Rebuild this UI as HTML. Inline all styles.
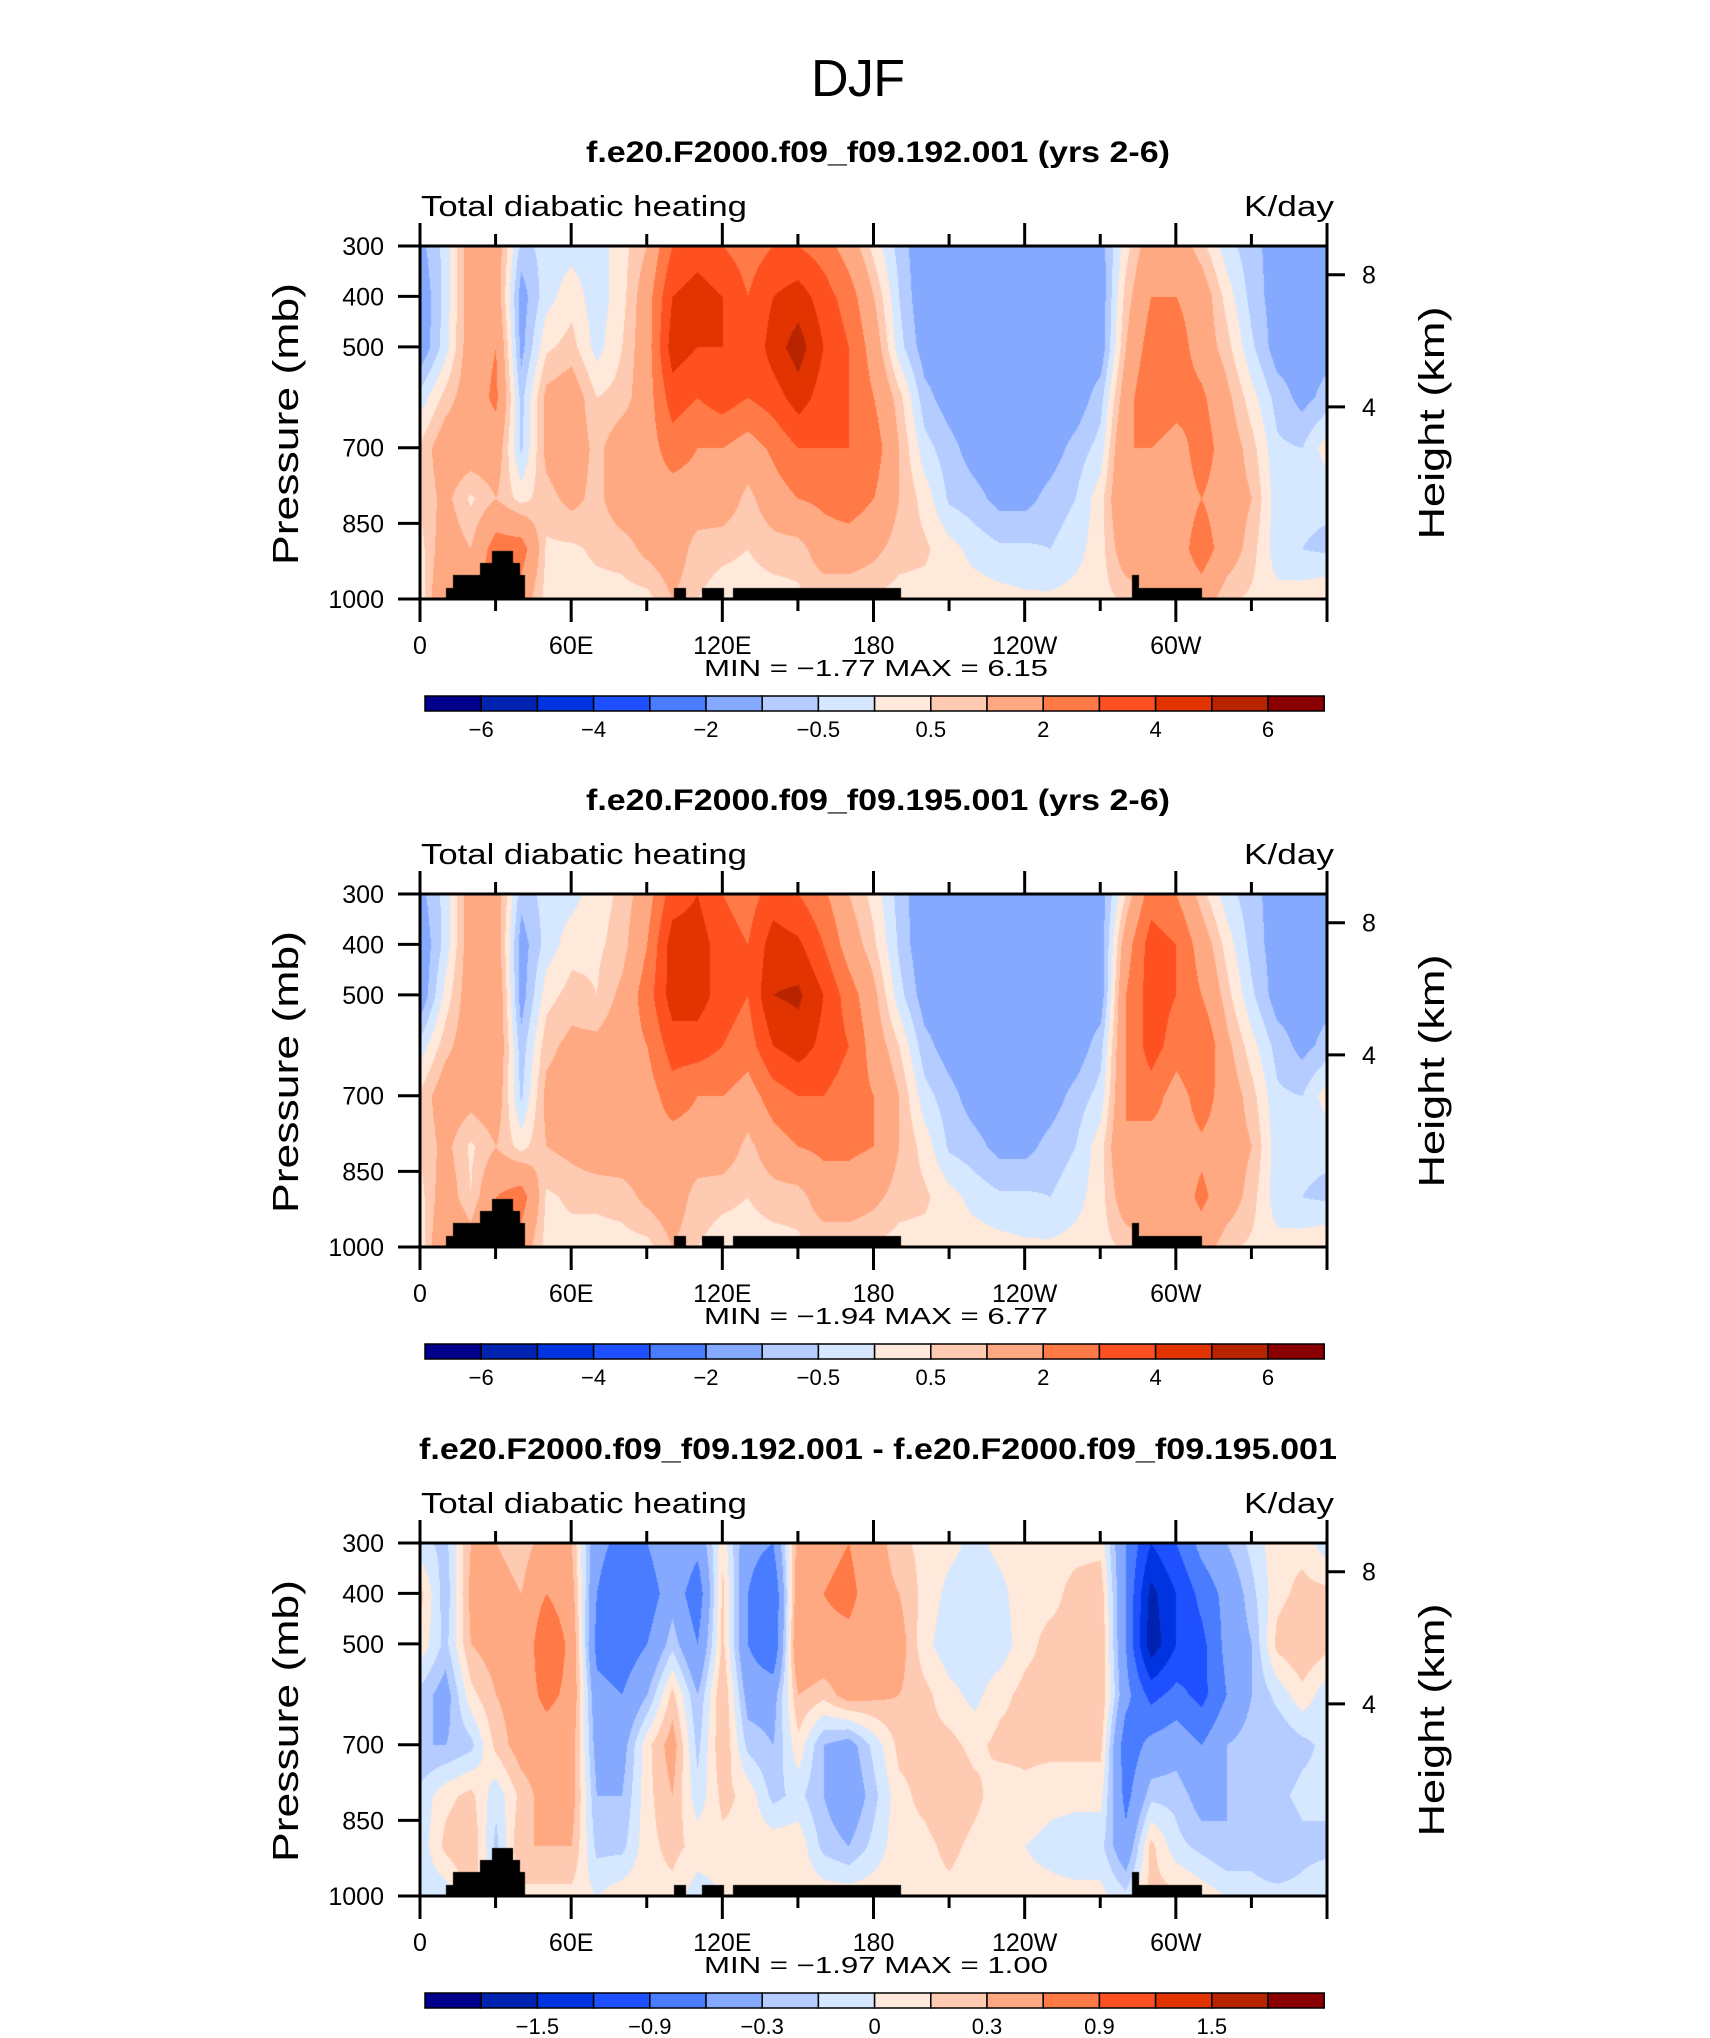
<!DOCTYPE html>
<html><head><meta charset="utf-8"><title>DJF Total diabatic heating</title>
<style>
html,body{margin:0;padding:0;background:#fff;}
#wrap{position:relative;width:1710px;height:2038px;overflow:hidden;background:#fff;}
canvas{position:absolute;}
svg{position:absolute;left:0;top:0;}
text{font-family:"Liberation Sans",sans-serif;fill:#000;}
</style></head>
<body>
<div id="wrap">
<canvas id="c0" width="907" height="353" style="left:420px;top:246px"></canvas>
<canvas id="c1" width="907" height="353" style="left:420px;top:894px"></canvas>
<canvas id="c2" width="907" height="353" style="left:420px;top:1543px"></canvas>
<svg id="svg" width="1710" height="2038">
<text x="858" y="96" font-size="52" text-anchor="middle" textLength="94">DJF</text>
</svg>
</div>
<script>
const lonNodes = [0,10,20,30,40,50,60,70,80,90,100,110,120,130,140,150,160,170,180,190,200,210,220,230,240,250,260,270,280,290,300,310,320,330,340,350,360];
const presNodes = [300,400,500,600,700,800,900,1000];
const levelsMain = [-6,-5,-4,-3,-2,-1,-0.5,0,0.5,1,2,3,4,5,6];
const levelsDiff = [-1.8,-1.5,-1.2,-0.9,-0.6,-0.3,-0.15,0,0.15,0.3,0.6,0.9,1.2,1.5,1.8];
const labelsMain = ["-6","-4","-2","-0.5","0.5","2","4","6"];
const labelsDiff = ["-1.5","-0.9","-0.3","0","0.3","0.9","1.5"];
const colors = ["#00008c","#0022b0","#0034e0","#1f50ff","#4a7cff","#84a9ff","#b4ccff","#d6e8ff","#ffe9da","#ffcab2","#ffa982","#ff7a47","#ff5020","#e23400","#b82400","#8a0000"];
const xTickLons = [0,60,120,180,240,300];
const xTickLabels = ["0","60E","120E","180","120W","60W"];
const yTickPres = [300,400,500,700,850,1000];
const heightTickPres = [357,619];
const heightTickLabels = ["8","4"];
const topoStart = [10.3,12.8,23.8,28.4,36.6,39.6,100.7,111.7,124.2,282.3,285.1];
const topoEnd =   [12.8,23.8,28.4,36.6,39.6,41.3,105.4,120.3,190.9,285.1,310];
const topoTop =   [978,952,927,903,927,952,977,977,977,952,977];

const field192 = [
[-1.2,-1.5,-1.5,-0.3,0.6,0.6,0.3,0.2],
[-0.3,-0.3,-0.2,0.7,1.5,1.2,1.5,2],
[1.5,1.5,1.5,1.5,1.5,0.4,1,1.5],
[1.5,1.5,2,2.2,1.5,1,2.5,3],
[-0.7,-1.3,-1.2,-0.7,-0.6,0.3,2.5,1.5],
[-0.3,-0.2,0.4,1.2,1.2,0.8,0.4,0.3],
[-0.2,0.3,0.7,1.5,1.5,1.2,0.4,0.3],
[-0.3,-0.3,-0.2,0.5,0.8,0.8,0.6,0.3],
[0.3,0.3,0.5,0.7,1.5,1.5,0.7,0.3],
[1,1.5,1.5,1.5,1.5,1.5,1.2,0.3],
[3,4,4.5,3.5,2.5,1.5,1.5,1],
[3.5,4.5,4,3,2,1.5,0.7,0.5],
[3,4,4,3.5,2,1.5,0.6,0.3],
[2.5,3,3,3,1.5,0.8,0.5,0.3],
[3,4,4.5,3.5,2.2,1.5,0.7,0.3],
[3,4.5,5.5,4.5,3,2,0.7,0.4],
[2.5,3.5,4,3.5,3,2.2,1.5,0.5],
[1.5,2.5,3,3,3,2.5,1.5,0.5],
[0.3,1,1.5,2,2.5,2,1.2,0.4],
[-0.7,-0.5,-0.3,0.7,1,1,0.7,0.3],
[-1.5,-1.5,-1.3,-0.8,-0.3,0.3,0.6,0.3],
[-1.5,-1.5,-1.5,-1.3,-0.8,-0.6,0.2,0.3],
[-1.5,-1.5,-1.5,-1.5,-1.3,-0.8,-0.2,0.3],
[-1.5,-1.5,-1.5,-1.5,-1.5,-1.2,-0.4,0.2],
[-1.5,-1.5,-1.5,-1.5,-1.5,-1.2,-0.4,0.1],
[-1.5,-1.5,-1.5,-1.5,-1.3,-0.8,-0.5,0.1],
[-1.5,-1.5,-1.5,-1.4,-0.8,-0.5,-0.2,0.2],
[-1.3,-1.4,-1.4,-0.7,-0.3,0.3,0.3,0.3],
[0.3,0.7,1,1.5,2,2,1.5,0.6],
[1.5,2,2.5,3,2,1.5,1.5,1],
[1.5,2,2.5,2.5,1.5,1.5,1.5,1.2],
[0.7,1.5,1.5,2.2,2.5,2,2.5,1.5],
[-0.3,0.3,0.7,1.2,1.5,1.5,1.5,0.6],
[-0.8,-0.7,-0.4,0.2,0.7,1,0.7,0.4],
[-1.3,-1.3,-1.3,-0.7,-0.4,-0.3,-0.3,0.2],
[-1.3,-1.3,-1.3,-1.2,-0.5,-0.4,-0.5,0.3],
[-1.3,-1.3,-1.2,-0.8,0.3,-0.4,-0.6,0.5]
];
const field195 = [
[-1.2,-1.5,-1.5,-0.3,0.6,0.6,0.3,0.2],
[-0.3,-0.3,0.2,0.8,1.5,1.2,1.5,2],
[1.5,1.5,1.5,1.5,1.3,0.4,0.5,1.5],
[1.5,1.5,1.8,1.8,1.5,1,2,3],
[-0.8,-1.3,-1.3,-0.8,-0.6,0.3,2.5,1.5],
[-0.3,-0.3,0.3,0.8,1.2,1.0,0.4,0.3],
[-0.2,0.3,0.7,1.2,1.5,1.2,0.6,0.3],
[0.3,0.4,0.5,1.2,1.5,1.5,0.6,0.3],
[0.6,0.7,1.2,1.5,1.5,1.5,0.7,0.3],
[1.5,2,2.5,2,1.5,1.5,1.2,0.3],
[3.5,4.5,4.5,3.5,2.5,1.5,1.5,1],
[4,4.5,4.5,3.5,2,1.5,0.7,0.5],
[3,3.5,3.5,3,2,1.5,0.6,0.3],
[2.5,3,3,2.5,1.5,0.8,0.5,0.3],
[3.5,4.5,5,4,2.5,1.5,0.7,0.3],
[3,4.2,5.2,4.5,3,2,0.7,0.4],
[2.2,3,4,3.7,3,2.2,1.5,0.5],
[1,1.5,2.5,3,2.5,2.2,1.5,0.5],
[0.3,0.6,1.2,1.5,2,2,1.2,0.4],
[-0.7,-0.6,-0.3,0.5,1,1,0.7,0.3],
[-1.5,-1.5,-1.3,-0.8,-0.3,0.3,0.6,0.3],
[-1.5,-1.5,-1.5,-1.3,-0.8,-0.6,0.2,0.3],
[-1.5,-1.5,-1.5,-1.5,-1.3,-0.8,-0.2,0.3],
[-1.5,-1.5,-1.5,-1.5,-1.5,-1.2,-0.4,0.2],
[-1.5,-1.5,-1.5,-1.5,-1.5,-1.2,-0.4,0.1],
[-1.5,-1.5,-1.5,-1.5,-1.3,-0.8,-0.5,0.1],
[-1.5,-1.5,-1.5,-1.4,-0.8,-0.5,-0.2,0.2],
[-1.3,-1.4,-1.4,-0.7,-0.3,0.3,0.3,0.3],
[0.5,1.5,2,2,2,2,1.5,0.6],
[2.5,3.5,3.5,3.5,2.5,1.5,1.5,1],
[2,3,3,2.5,1.5,1.5,1.5,1.2],
[0.7,1.5,2,3,2.5,1.8,2.2,1.5],
[-0.3,0.3,0.7,1.2,1.5,1.5,1.5,0.6],
[-0.8,-0.7,-0.4,0.2,0.7,1,0.7,0.4],
[-1.3,-1.3,-1.3,-0.7,-0.4,-0.3,-0.3,0.2],
[-1.3,-1.3,-1.3,-1.2,-0.5,-0.4,-0.5,0.3],
[-1.3,-1.3,-1.2,-0.8,0.3,-0.4,-0.6,0.5]
];
const fieldDiff = [
[-0.1,0.2,0.1,-0.2,-0.3,-0.1,-0.1,-0.1],
[-0.2,-0.25,-0.2,-0.4,-0.3,0.1,0.2,-0.1],
[0.3,0.35,0.3,0.1,-0.2,0.2,0.3,0.2],
[0.3,0.4,0.4,0.3,0.2,-0.1,-0.2,0],
[0.2,0.3,0.3,0.4,0.4,0.2,0.3,0.1],
[0.4,0.6,0.9,0.7,0.4,0.4,0.3,0.1],
[0.3,0.4,0.5,0.5,0.4,0.4,0.3,0.1],
[-0.5,-0.6,-0.7,-0.5,-0.4,-0.3,-0.2,0],
[-0.7,-0.9,-0.8,-0.6,-0.4,-0.3,-0.2,0.1],
[-0.6,-0.8,-0.6,-0.3,0.1,0.1,0.1,0.1],
[-0.3,-0.4,-0.2,0.2,0.4,0.3,0.2,0.1],
[-0.5,-0.8,-0.6,-0.3,-0.2,-0.1,0.1,-0.1],
[0.1,0.2,0.2,0.3,0.3,0.2,0.1,0.0],
[-0.5,-0.6,-0.6,-0.4,-0.2,0.1,0.1,0.1],
[-0.6,-0.9,-0.9,-0.4,-0.3,-0.2,0.1,0.1],
[0.4,0.5,0.6,0.3,0.1,-0.1,0.1,0.1],
[0.5,0.6,0.5,0.2,-0.3,-0.3,-0.2,0.1],
[0.6,0.7,0.5,0.4,-0.4,-0.5,-0.3,0.1],
[0.4,0.4,0.4,0.35,-0.1,-0.2,-0.1,0.1],
[0.2,0.3,0.4,0.3,0.2,0.1,0.1,0.1],
[0.1,0.1,0.05,0.2,0.2,0.2,0.1,0.1],
[0.05,-0.05,-0.1,0.05,0.2,0.3,0.2,0.1],
[-0.05,-0.1,-0.1,-0.05,0.1,0.2,0.1,0.05],
[0.05,-0.05,-0.1,0.1,0.2,0.05,0.05,0.05],
[0.1,0.1,0.1,0.2,0.2,0.1,0,0.05],
[0.1,0.1,0.2,0.2,0.2,0.05,-0.05,0.05],
[0.1,0.2,0.2,0.2,0.2,0.05,-0.1,0.05],
[0.1,0.25,0.3,0.3,0.2,0.05,-0.1,0.05],
[-0.6,-0.6,-0.6,-0.5,-0.8,-0.7,-0.5,-0.1],
[-1.2,-1.6,-1.7,-1.0,-0.5,-0.2,0.2,0.2],
[-0.9,-1.2,-1.2,-0.8,-0.4,-0.2,-0.1,0.2],
[-0.5,-0.8,-1.0,-1.0,-0.6,-0.4,-0.2,0.1],
[-0.3,-0.5,-0.5,-0.6,-0.3,-0.3,-0.3,0],
[-0.1,-0.2,-0.3,-0.3,-0.2,-0.2,-0.2,-0.1],
[0.1,0.1,0.2,-0.1,-0.3,-0.2,-0.3,-0.1],
[0.1,0.2,0.3,0.1,-0.2,-0.1,-0.2,-0.1],
[-0.1,0.2,0.2,-0.1,-0.1,-0.1,-0.2,0]
];
const panelTitles = ["f.e20.F2000.f09_f09.192.001 (yrs 2-6)","f.e20.F2000.f09_f09.195.001 (yrs 2-6)","f.e20.F2000.f09_f09.192.001 - f.e20.F2000.f09_f09.195.001"];
const minVals = ["-1.77","-1.94","-1.97"];
const maxVals = ["6.15","6.77","1.00"];

const PL = 420, PW = 907, PH = 353;
const panelTops = [246, 894, 1543];
function xScale(lon){ return PL + lon / 360 * PW; }
function yScale(p, top){ return top + (p - 300) / 700 * PH; }

const NS = "http://www.w3.org/2000/svg";
const svg = document.getElementById("svg");
function mk(tag, attrs, parent){
  const e = document.createElementNS(NS, tag);
  for (const k in attrs) e.setAttribute(k, attrs[k]);
  (parent || svg).appendChild(e);
  return e;
}
function colorIndex(v, lev){ let i = 0; while (i < lev.length && v >= lev[i]) i++; return i; }
function hex(c){ return [parseInt(c.substr(1,2),16),parseInt(c.substr(3,2),16),parseInt(c.substr(5,2),16)]; }
const rgb = colors.map(hex);

function sample(field, lon, p){
  let fi = lon / 10; if (fi >= 36) fi = 35.9999;
  let fj = (p - 300) / 100; if (fj >= 7) fj = 6.9999; if (fj < 0) fj = 0;
  const i = Math.floor(fi), j = Math.floor(fj), a = fi - i, b = fj - j;
  const v00 = field[i][j], v10 = field[i+1][j], v01 = field[i][j+1], v11 = field[i+1][j+1];
  return (v00*(1-a)+v10*a)*(1-b) + (v01*(1-a)+v11*a)*b;
}

function drawField(cid, field, lev){
  const cv = document.getElementById(cid);
  const ctx = cv.getContext("2d");
  const img = ctx.createImageData(PW, PH);
  for (let y = 0; y < PH; y++){
    const p = 300 + y / PH * 700;
    for (let x = 0; x < PW; x++){
      const lon = x / PW * 360;
      let c = rgb[colorIndex(sample(field, lon, p), lev)];
      for (let k = 0; k < topoStart.length; k++){
        if (lon >= topoStart[k] && lon < topoEnd[k] && p >= topoTop[k]) { c = [0,0,0]; break; }
      }
      const o = (y * PW + x) * 4;
      img.data[o] = c[0]; img.data[o+1] = c[1]; img.data[o+2] = c[2]; img.data[o+3] = 255;
    }
  }
  ctx.putImageData(img, 0, 0);
}
drawField("c0", field192, levelsMain);
drawField("c1", field195, levelsMain);
drawField("c2", fieldDiff, levelsDiff);

panelTops.forEach(function(top, pi){
  const off = top - 246;
  const g = mk("g", {});
  
  

  const t = mk("text", {x: 878, y: 162 + off, "font-size": 30, "font-weight": "bold", "text-anchor": "middle", textLength: pi == 2 ? 918 : 584, lengthAdjust: "spacingAndGlyphs"}, g);
  t.textContent = panelTitles[pi];
  
  

  const l = mk("text", {x: 421, y: 216 + off, "font-size": 29, textLength: 326, lengthAdjust: "spacingAndGlyphs"}, g);
  l.textContent = "Total diabatic heating";
  
  

  const u = mk("text", {x: 1334, y: 216 + off, "font-size": 29, "text-anchor": "end", textLength: 90, lengthAdjust: "spacingAndGlyphs"}, g);
  u.textContent = "K/day";
  
  

  for (let lon = 0; lon <= 360; lon += 30){
    const x = xScale(lon);
    const len = (lon % 60 === 0) ? 23 : 12;
    const tt = mk("line", {x1: x, x2: x, y1: top, y2: top - len, stroke: "#000", "stroke-width": 3}, g);
    
    
    const tb = mk("line", {x1: x, x2: x, y1: top + PH, y2: top + PH + len, stroke: "#000", "stroke-width": 3}, g);
    
    
  }
  xTickLons.forEach(function(lon, i){
    const xl = mk("text", {x: xScale(lon), y: 654 + off, "font-size": 25, "text-anchor": "middle"}, g);
    xl.textContent = xTickLabels[i];
    
    
  });
  yTickPres.forEach(function(p){
    const y = yScale(p, top);
    const yt = mk("line", {x1: PL - 22, x2: PL, y1: y, y2: y, stroke: "#000", "stroke-width": 3}, g);
    
    
    const yl = mk("text", {x: 384, y: y + 9, "font-size": 25, "text-anchor": "end"}, g);
    yl.textContent = String(p);
    
    
  });
  heightTickPres.forEach(function(p, i){
    const y = yScale(p, top);
    const ht = mk("line", {x1: PL + PW, x2: PL + PW + 18, y1: y, y2: y, stroke: "#000", "stroke-width": 3}, g);
    
    
    const hl = mk("text", {x: 1362, y: y + 9, "font-size": 25}, g);
    hl.textContent = heightTickLabels[i];
    
    
  });
  const fr = mk("rect", {x: PL, y: top, width: PW, height: PH, fill: "none", stroke: "#000", "stroke-width": 3}, g);
  
  

  const pr = mk("text", {x: 0, y: 0, "font-size": 36, "text-anchor": "middle", textLength: 282, lengthAdjust: "spacingAndGlyphs", transform: "translate(298," + (424 + off) + ") rotate(-90)"}, g);
  pr.textContent = "Pressure (mb)";
  
  
  const hh = mk("text", {x: 0, y: 0, "font-size": 36, "text-anchor": "middle", textLength: 233, lengthAdjust: "spacingAndGlyphs", transform: "translate(1444," + (423 + off) + ") rotate(-90)"}, g);
  hh.textContent = "Height (km)";
  
  

  const mm = mk("text", {x: 704, y: 676 + off, "font-size": 23, textLength: 344, lengthAdjust: "spacingAndGlyphs", "xml:space": "preserve"}, g);
  mm.textContent = "MIN =  \u2212" + minVals[pi].replace("-","") + "  MAX =   " + maxVals[pi];
  
  

  const cbTop = 696 + off, cbL = 425, bw = 56.2;
  for (let k = 0; k < 16; k++){
    const r = mk("rect", {x: cbL + k * bw, y: cbTop, width: bw, height: 15, fill: colors[k], stroke: "#000", "stroke-width": 1.5}, g);
    
    
  }
  const labs = pi == 2 ? labelsDiff : labelsMain;
  const pos = pi == 2 ? [2,4,6,8,10,12,14] : [1,3,5,7,9,11,13,15];
  labs.forEach(function(s, i){
    const cl = mk("text", {x: cbL + pos[i] * bw, y: cbTop + 41, "font-size": 22, "text-anchor": "middle"}, g);
    cl.textContent = s.replace("-", "\u2212");
    
    
  });
});
</script>
</body></html>
